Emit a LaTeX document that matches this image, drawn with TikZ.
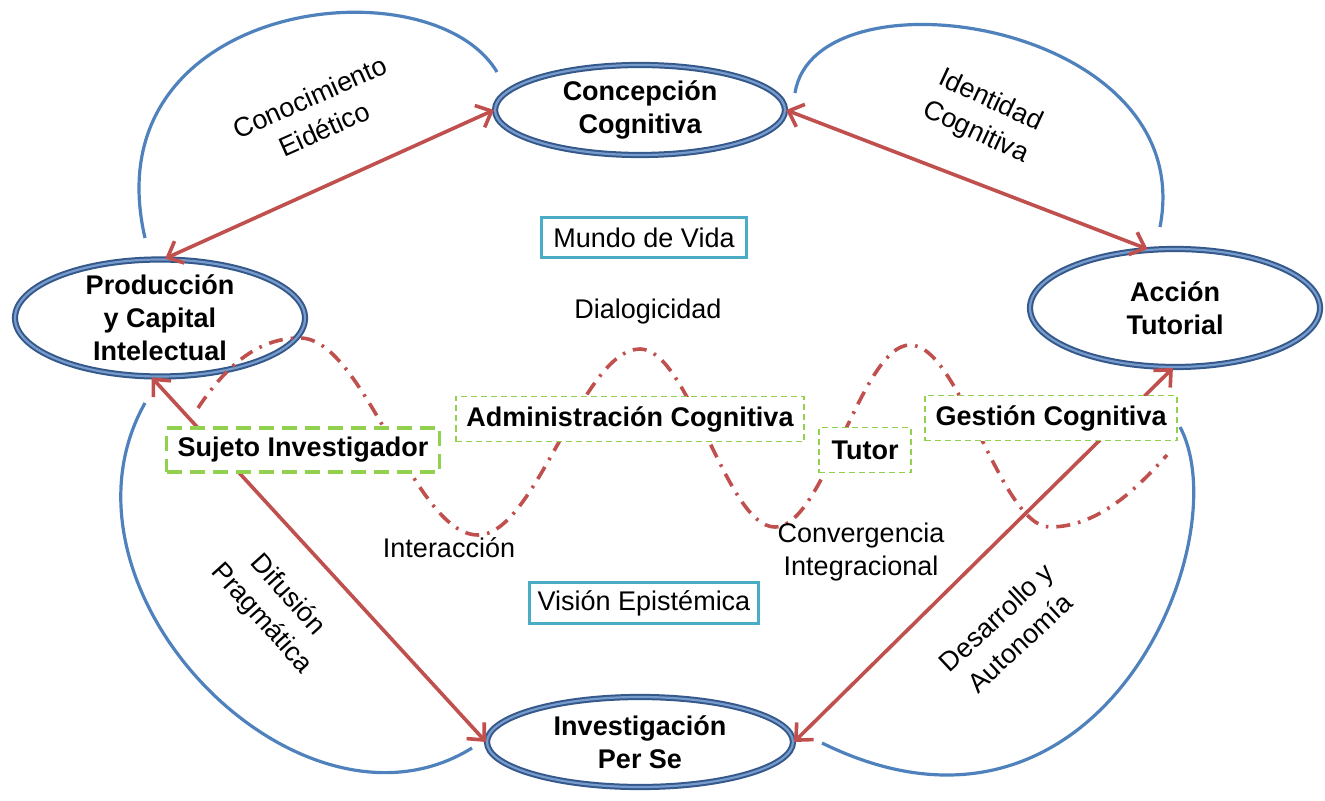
\documentclass[tikz,border=0pt]{standalone}
\usepackage{fontspec}
\setmainfont{Liberation Sans}
\usepackage{tikz}
\usetikzlibrary{arrows.meta,positioning,shapes.geometric,calc}

\definecolor{ringblue}{RGB}{52,88,138}
\definecolor{ringlight}{RGB}{120,155,205}
\definecolor{arcblue}{RGB}{79,129,189}
\definecolor{linkred}{RGB}{192,80,77}
\definecolor{boxcyan}{RGB}{75,172,198}
\definecolor{boxgreen}{RGB}{146,208,80}

\newcommand\lblfont{\fontsize{13.5}{16.5}\selectfont}
\newcommand\tiltfont{\fontsize{13.5}{17.5}\selectfont}

\tikzset{
  pole/.style={ellipse, draw=ringblue, line width=1pt, double=ringlight, double distance=1.1pt,
    fill=white, inner sep=0pt, inner ysep=-4pt, align=center, font=\lblfont\bfseries},
  worldbox/.style={draw=boxcyan, line width=1.5pt, fill=white, inner sep=0pt, font=\lblfont},
  notebox/.style={draw=boxgreen, line width=0.6pt, dash pattern=on 3pt off 2pt, fill=white,
    inner sep=0pt, minimum height=22.5pt, font=\lblfont\bfseries},
  subjbox/.style={draw=boxgreen, line width=1.6pt, dash pattern=on 7.5pt off 4pt, fill=white,
    inner sep=0pt, minimum width=136.5pt, minimum height=22pt, font=\lblfont\bfseries},
  lbl/.style={align=center, inner sep=0pt, font=\lblfont},
  tilt/.style={align=center, inner sep=0pt, font=\tiltfont},
  link/.style={draw=linkred, line width=1.8pt, >={Straight Barb[length=6.5pt,width=12pt]}, <->},
  loopline/.style={draw=arcblue, line width=1.6pt},
  wavy/.style={draw=linkred, line width=1.8pt, dash pattern=on 7pt off 4pt on 1.3pt off 4pt}
}

\begin{document}
\begin{tikzpicture}[x=0.5pt,y=-0.5pt]
  \useasboundingbox (0,0) rectangle (1325,801);

  \node[pole, minimum width=145pt, minimum height=45pt] (conc) at (640,110) {Concepción\\Cognitiva};
  \node[pole, minimum width=145pt, minimum height=58.5pt] (prod) at (160,318) {Producción\\y Capital\\Intelectual};
  \node[pole, minimum width=145pt, minimum height=59pt] (acc) at (1175,308) {Acción\\Tutorial};
  \node[pole, minimum width=153pt, minimum height=45pt] (inv) at (640,742) {Investigación\\Per Se};

  \coordinate (nw1) at (145,238);
  \coordinate (nw2) at (497,72);
  \coordinate (ne1) at (795,93);
  \coordinate (ne2) at (1160,227);
  \coordinate (sw1) at (145,403);
  \coordinate (sw2) at (472,748);
  \coordinate (se1) at (1180,427);
  \coordinate (se2) at (822,743);
  \draw[loopline] (nw1) .. controls (90,0) and (430,-40) .. (nw2);
  \draw[loopline] (ne1) .. controls (815,-35) and (1200,20) .. (ne2);
  \draw[loopline] (sw1) .. controls (40,590) and (300,855) .. (sw2);
  \draw[loopline] (se1) .. controls (1240,540) and (1100,880) .. (se2);

  \draw[link] (prod.85) -- (conc.west);
  \draw[link] (conc.east) -- (acc.115);
  \draw[link] (prod.262) -- (inv.west);
  \draw[link] (acc.268) -- (inv.east);

  \draw[wavy] (198,408) .. controls (230,360) and (262,338) .. (300,338)
    .. controls (364,338) and (414,535) .. (478,535)
    .. controls (536,535) and (582,349) .. (640,349)
    .. controls (689,349) and (726,527) .. (775,527)
    .. controls (824,527) and (861,345) .. (910,345)
    .. controls (960,345) and (1000,527) .. (1050,527)
    .. controls (1100,527) and (1140,485) .. (1167,455);

  \node[worldbox, minimum width=102.5pt, minimum height=20pt] (mundo) at (644,238) {Mundo de Vida};
  \node[worldbox, minimum width=114.5pt, minimum height=20.5pt] (vision) at (644,603) {Visión Epistémica};
  \node[subjbox] (sujeto) at (303,450) {Sujeto Investigador};
  \node[notebox, minimum width=174pt] (admin) at (630,419) {Administración Cognitiva};
  \node[notebox, minimum width=46pt] (tutor) at (865,450) {Tutor};
  \node[notebox, minimum width=126pt] (gestion) at (1051,418) {Gestión Cognitiva};

  \node[lbl] (dialog) at (648,312) {Dialogicidad};
  \node[lbl] (interac) at (449,548) {Interacción};
  \node[lbl] (converg) at (861,552) {Convergencia\\Integracional};
  \node[tilt, rotate=24] (conoc) at (317,113) {Conocimiento\\Eidético};
  \node[tilt, rotate=-25] (ident) at (983,117) {Identidad\\Cognitiva};
  \node[tilt, rotate=-48] (difus) at (274,607) {Difusión\\Pragmática};
  \node[tilt, rotate=43] (desarr) at (1008,630) {Desarrollo y\\Autonomía};
\end{tikzpicture}
\end{document}
